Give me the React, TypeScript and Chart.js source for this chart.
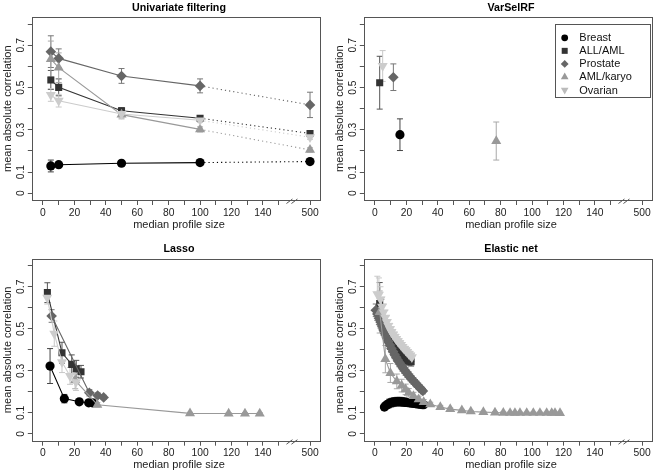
import React, { useEffect, useRef } from 'react';
import { Chart, registerables } from 'chart.js';

Chart.register(...registerables);
Chart.defaults.font.family = "'Liberation Sans', Arial, Helvetica, sans-serif";

// ---------- series meta ----------
const SERIES_NAMES = ['Breast', 'ALL/AML', 'Prostate', 'AML/karyo', 'Ovarian'];
const COLORS = ['#000000', '#333333', '#666666', '#999999', '#cccccc'];
const ERR_COLORS = ['#444444', '#555555', '#777777', '#a8a8a8', '#c8c8c8'];
const STYLES = ['circle', 'rect', 'rectRot', 'triangle', 'triangle'];
const ROTATIONS = [0, 0, 0, 0, 180];
const RADII = [4.6, 5, 5.3, 5.8, 5.8];

// ---------- axes ----------
const X_TITLE = 'median profile size';
const Y_TITLE = 'mean absolute correlation';
const X_TICK_VALUES = [0, 10, 20, 30, 40, 50, 60, 70, 80, 90, 100, 110, 120, 130, 140, 150, 500];
const X_TICK_LABELS = ['0', '', '20', '', '40', '', '60', '', '80', '', '100', '', '120', '', '140', '', '500'];
const Y_TICK_VALUES = [0, 0.1, 0.2, 0.3, 0.4, 0.5, 0.6, 0.7, 0.8];
const Y_TICK_LABELS = ['0', '0.1', '', '0.3', '', '0.5', '', '0.7', ''];

// ---------- Univariate filtering ----------
const uniX = [5, 10, 50, 100, 500];
const uniBreast = [0.129, 0.135, 0.142, 0.145, 0.15];
const uniBreastErr = [0.028, 0.008, 0.006, 0.006, 0.006];
const uniAllAml = [0.536, 0.501, 0.39, 0.355, 0.283];
const uniAllAmlErr = [0.045, 0.04, 0.015, 0.012, 0.01];
const uniProstate = [0.67, 0.638, 0.555, 0.508, 0.418];
const uniProstateErr = [0.075, 0.045, 0.035, 0.033, 0.06];
const uniAmlKaryo = [0.635, 0.594, 0.372, 0.302, 0.205];
const uniAmlKaryoErr = [0.085, 0.07, 0.02, 0.012, 0.01];
const uniOvarian = [0.465, 0.438, 0.375, 0.345, 0.265];
const uniOvarianErr = [0.03, 0.03, 0.015, 0.01, 0.01];

// ---------- VarSelRF ----------
const vsBreastX = [15.9];
const vsBreast = [0.277];
const vsBreastErr = [0.075];
const vsAllAmlX = [3];
const vsAllAml = [0.523];
const vsAllAmlErr = [0.125];
const vsProstateX = [11.7];
const vsProstate = [0.549];
const vsProstateErr = [0.063];
const vsAmlKaryoX = [77.2];
const vsAmlKaryo = [0.247];
const vsAmlKaryoErr = [0.09];
const vsOvarianX = [4.9];
const vsOvarian = [0.602];
const vsOvarianErr = [0.073];

// ---------- Lasso ----------
const laBreastX = [4.5, 13.6, 23.1, 29.1, 31.5];
const laBreast = [0.323, 0.168, 0.153, 0.148, 0.148];
const laBreastErr = [0.083, 0.02, 0.01, 0.01, 0.008];
const laAllAmlX = [2.8, 12.1, 18.3, 21.2, 24.2];
const laAllAml = [0.672, 0.386, 0.331, 0.31, 0.296];
const laAllAmlErr = [0.047, 0.05, 0.045, 0.04, 0.03];
const laProstateX = [5.5, 29.5, 34.8, 38.6];
const laProstate = [0.561, 0.196, 0.183, 0.174];
const laProstateErr = [0.03, 0.015, 0.012, 0.01];
const laAmlKaryoX = [20.5, 34.6, 93.6, 118.2, 128.6, 138];
const laAmlKaryo = [0.255, 0.139, 0.098, 0.097, 0.097, 0.097];
const laAmlKaryoErr = [0.04, 0.01, 0.005, 0.004, 0.004, 0.004];
const laOvarianX = [2.7, 7.2, 12.1, 17.2, 21];
const laOvarian = [0.648, 0.477, 0.342, 0.276, 0.247];
const laOvarianErr = [0.03, 0.06, 0.05, 0.04, 0.04];

// ---------- Elastic net ----------
const enBreastX = [6, 7, 8, 9, 10, 11, 12, 13, 14, 15, 16, 17, 18, 19, 20, 21, 22, 23, 24, 25, 26, 27, 28, 29, 30, 31];
const enBreast = [0.128, 0.135, 0.14, 0.145, 0.148, 0.15, 0.152, 0.153, 0.154, 0.154, 0.154, 0.153, 0.152, 0.151, 0.15, 0.149, 0.148, 0.147, 0.146, 0.145, 0.144, 0.143, 0.142, 0.141, 0.14, 0.139];
const enBreastErr = [0.012, 0.015, 0.018, 0.02, 0.02, 0.02, 0.02, 0.02, 0.02, 0.02, 0.02, 0.02, 0.018, 0.018, 0.018, 0.016, 0.016, 0.015, 0.015, 0.014, 0.014, 0.013, 0.013, 0.012, 0.012, 0.012];
const enAllAmlX = [3, 4, 5, 6, 7, 8, 9, 10, 11, 12, 13, 14, 15, 16, 17, 18, 19, 20, 21, 22, 23];
const enAllAml = [0.62, 0.57, 0.535, 0.505, 0.48, 0.46, 0.445, 0.43, 0.42, 0.41, 0.4, 0.392, 0.385, 0.378, 0.372, 0.366, 0.36, 0.355, 0.35, 0.347, 0.343];
const enAllAmlErr = [0.1, 0.07, 0.05, 0.04, 0.035, 0.03, 0.03, 0.028, 0.026, 0.025, 0.024, 0.023, 0.022, 0.021, 0.02, 0.02, 0.02, 0.02, 0.02, 0.02, 0.02];
const enProstateX = [0.5, 1.5, 2.5, 3.5, 4.5, 5.5, 6.5, 7.5, 8.5, 9.5, 10.5, 11.5, 12.5, 13.5, 14.5, 15.5, 16.5, 17.5, 18.5, 19.5, 20.5, 21.5, 22.5, 23.5, 24.5, 25.5, 26.5, 27.5, 28.5, 29.5, 30.5];
const enProstate = [0.588, 0.57, 0.55, 0.532, 0.513, 0.494, 0.476, 0.458, 0.44, 0.423, 0.407, 0.392, 0.378, 0.365, 0.352, 0.34, 0.329, 0.318, 0.307, 0.297, 0.287, 0.278, 0.269, 0.26, 0.252, 0.244, 0.236, 0.228, 0.22, 0.212, 0.204];
const enProstateErr = [0.03, 0.03, 0.03, 0.028, 0.026, 0.025, 0.024, 0.023, 0.022, 0.021, 0.02, 0.02, 0.02, 0.02, 0.02, 0.02, 0.019, 0.019, 0.018, 0.018, 0.017, 0.017, 0.016, 0.016, 0.015, 0.015, 0.015, 0.014, 0.014, 0.014, 0.013];
const enAmlKaryoX = [3, 6.6, 9.8, 13.9, 17, 19.5, 21.5, 24.5, 27.8, 31, 35.2, 41.6, 47.9, 55.3, 61, 69, 76.4, 81.7, 86, 89.1, 92.3, 96.6, 100.8, 105, 109.3, 112.5, 114.6, 117.8];
const enAmlKaryo = [0.58, 0.356, 0.29, 0.25, 0.23, 0.212, 0.196, 0.18, 0.165, 0.152, 0.141, 0.128, 0.118, 0.112, 0.107, 0.104, 0.102, 0.101, 0.1, 0.1, 0.1, 0.1, 0.1, 0.1, 0.1, 0.1, 0.1, 0.099];
const enAmlKaryoErr = [0.1, 0.065, 0.045, 0.035, 0.03, 0.025, 0.02, 0.018, 0.015, 0.012, 0.01, 0.008, 0.006, 0.005, 0.005, 0.004, 0.004, 0.004, 0.004, 0.004, 0.004, 0.004, 0.004, 0.004, 0.004, 0.004, 0.004, 0.004];
const enOvarianX = [1.5, 2.5, 3.5, 4.5, 5.5, 6.5, 7.5, 8.5, 9.5, 10.5, 11.5, 12.5, 13.5, 14.5, 15.5, 16.5, 17.5, 18.5, 19.5, 20.5, 21.5, 22.5, 23.5];
const enOvarian = [0.665, 0.662, 0.64, 0.605, 0.578, 0.553, 0.532, 0.514, 0.498, 0.484, 0.472, 0.461, 0.451, 0.441, 0.432, 0.423, 0.414, 0.405, 0.397, 0.389, 0.381, 0.373, 0.365];
const enOvarianErr = [0.085, 0.08, 0.06, 0.045, 0.04, 0.035, 0.03, 0.03, 0.028, 0.026, 0.025, 0.024, 0.023, 0.022, 0.021, 0.02, 0.02, 0.02, 0.02, 0.02, 0.02, 0.02, 0.02];

// ---------- panels ----------
type Panel = {
  title: string;
  xs: number[][];
  ys: number[][];
  errs: number[][];
  lines: boolean;
  dottedLast: boolean;
  legend: boolean;
};

const PANELS: Panel[] = [
  {
    title: 'Univariate filtering',
    xs: [uniX, uniX, uniX, uniX, uniX],
    ys: [uniBreast, uniAllAml, uniProstate, uniAmlKaryo, uniOvarian],
    errs: [uniBreastErr, uniAllAmlErr, uniProstateErr, uniAmlKaryoErr, uniOvarianErr],
    lines: true, dottedLast: true, legend: false,
  },
  {
    title: 'VarSelRF',
    xs: [vsBreastX, vsAllAmlX, vsProstateX, vsAmlKaryoX, vsOvarianX],
    ys: [vsBreast, vsAllAml, vsProstate, vsAmlKaryo, vsOvarian],
    errs: [vsBreastErr, vsAllAmlErr, vsProstateErr, vsAmlKaryoErr, vsOvarianErr],
    lines: false, dottedLast: false, legend: true,
  },
  {
    title: 'Lasso',
    xs: [laBreastX, laAllAmlX, laProstateX, laAmlKaryoX, laOvarianX],
    ys: [laBreast, laAllAml, laProstate, laAmlKaryo, laOvarian],
    errs: [laBreastErr, laAllAmlErr, laProstateErr, laAmlKaryoErr, laOvarianErr],
    lines: true, dottedLast: false, legend: false,
  },
  {
    title: 'Elastic net',
    xs: [enBreastX, enAllAmlX, enProstateX, enAmlKaryoX, enOvarianX],
    ys: [enBreast, enAllAml, enProstate, enAmlKaryo, enOvarian],
    errs: [enBreastErr, enAllAmlErr, enProstateErr, enAmlKaryoErr, enOvarianErr],
    lines: true, dottedLast: false, legend: false,
  },
];

type Row = { top: number; height: number; boxTop: number; boxBottom: number; xTitleCenter: number };
const ROWS: Row[] = [
  { top: 0, height: 236, boxTop: 17.4, boxBottom: 200, xTitleCenter: 225 },
  { top: 241, height: 232, boxTop: 18, boxBottom: 199.7, xTitleCenter: 224 },
];
const PANEL_W = 332;
const BOX_LEFT = 32.3;
const BOX_RIGHT = 320.7;
const TEXT_CENTER_X = 179;

// 500 sits after the axis break
const toAxis = (v: number) => (v === 500 ? 170 : v);

function drawMarker(ctx: CanvasRenderingContext2D, style: string, x: number, y: number, r: number, rot: number) {
  ctx.beginPath();
  if (style === 'circle') {
    ctx.arc(x, y, r, 0, Math.PI * 2);
  } else if (style === 'rect') {
    ctx.rect(x - r, y - r, 2 * r, 2 * r);
  } else if (style === 'rectRot') {
    ctx.moveTo(x, y - r);
    ctx.lineTo(x + r, y);
    ctx.lineTo(x, y + r);
    ctx.lineTo(x - r, y);
    ctx.closePath();
  } else {
    const d = rot === 180 ? 1 : -1;
    ctx.moveTo(x, y + d * r);
    ctx.lineTo(x - r * 0.866, y - d * r * 0.5);
    ctx.lineTo(x + r * 0.866, y - d * r * 0.5);
    ctx.closePath();
  }
  ctx.fill();
}

const errorBarPlugin = {
  id: 'errorBars',
  beforeDatasetsDraw(chart: any) {
    const { ctx } = chart;
    const xs = chart.scales.x;
    const ys = chart.scales.y;
    ctx.save();
    ctx.lineWidth = 1;
    chart.data.datasets.forEach((ds: any) => {
      ctx.strokeStyle = ds.errColor;
      ds.data.forEach((p: any) => {
        if (!p.e) return;
        const px = xs.getPixelForValue(p.x);
        const top = ys.getPixelForValue(p.y + p.e);
        const bot = ys.getPixelForValue(p.y - p.e);
        ctx.beginPath();
        ctx.moveTo(px, top);
        ctx.lineTo(px, bot);
        ctx.moveTo(px - 3, top);
        ctx.lineTo(px + 3, top);
        ctx.moveTo(px - 3, bot);
        ctx.lineTo(px + 3, bot);
        ctx.stroke();
      });
    });
    ctx.restore();
  },
};

function makeFramePlugin(panel: Panel, row: Row) {
  return {
    id: 'frame',
    afterDraw(chart: any) {
      const { ctx, chartArea: a } = chart;
      const xs = chart.scales.x;
      const ys = chart.scales.y;
      ctx.save();
      // plot box
      ctx.strokeStyle = '#555';
      ctx.lineWidth = 1;
      ctx.strokeRect(Math.round(a.left) + 0.5, Math.round(a.top) + 0.5, Math.round(a.right - a.left), Math.round(a.bottom - a.top));
      // axis break
      const bx = xs.getPixelForValue(158.5);
      const by = a.bottom;
      ctx.beginPath();
      [-2.5, 2.5].forEach((off) => {
        ctx.moveTo(bx + off - 3, by + 3.5);
        ctx.lineTo(bx + off + 3, by - 1);
      });
      ctx.stroke();
      // title and x label
      ctx.textAlign = 'center';
      ctx.textBaseline = 'middle';
      ctx.fillStyle = '#000';
      ctx.font = "bold 10.7px 'Liberation Sans', Arial, sans-serif";
      ctx.fillText(panel.title, TEXT_CENTER_X, 8.5);
      ctx.fillStyle = '#222';
      ctx.font = "11px 'Liberation Sans', Arial, sans-serif";
      ctx.fillText(X_TITLE, TEXT_CENTER_X, row.xTitleCenter);
      // rotated y tick labels
      ctx.font = "10.3px 'Liberation Sans', Arial, sans-serif";
      Y_TICK_VALUES.forEach((v, i) => {
        const lab = Y_TICK_LABELS[i];
        if (!lab) return;
        const py = ys.getPixelForValue(v);
        ctx.save();
        ctx.translate(21, py);
        ctx.rotate(-Math.PI / 2);
        ctx.fillText(lab, 0, 0);
        ctx.restore();
      });
      // legend
      if (panel.legend) {
        const w = 95.3;
        const h = 73.4;
        const lx = a.right - 2.7 - w;
        const ly = a.top + 7;
        ctx.strokeStyle = '#555';
        ctx.strokeRect(Math.round(lx) + 0.5, Math.round(ly) + 0.5, Math.round(w), Math.round(h));
        ctx.font = "11px 'Liberation Sans', Arial, sans-serif";
        ctx.textAlign = 'left';
        ctx.textBaseline = 'middle';
        const legR = [3.4, 3, 3.9, 4.4, 4.4];
        SERIES_NAMES.forEach((name, i) => {
          const yy = ly + 13.4 + i * 13.05;
          ctx.fillStyle = i === 4 ? '#bbbbbb' : COLORS[i];
          drawMarker(ctx, STYLES[i], lx + 10, yy, legR[i], ROTATIONS[i]);
          ctx.fillStyle = '#111';
          ctx.fillText(name, lx + 24.6, yy + 0.5);
        });
      }
      ctx.restore();
    },
  };
}

function buildConfig(panel: Panel, row: Row): any {
  const datasets = panel.ys.map((ys, i) => ({
    label: SERIES_NAMES[i],
    data: ys.map((y, j) => ({ x: toAxis(panel.xs[i][j]), y, e: panel.errs[i][j] })),
    showLine: panel.lines,
    borderColor: COLORS[i],
    backgroundColor: COLORS[i],
    borderWidth: 1.1,
    pointStyle: STYLES[i],
    pointRotation: ROTATIONS[i],
    pointRadius: RADII[i],
    pointHoverRadius: RADII[i],
    pointBorderWidth: 0,
    order: -i,
    errColor: ERR_COLORS[i],
    segment: panel.dottedLast
      ? { borderDash: (c: any) => (c.p1.parsed.x === 170 ? [1.2, 3] : undefined) }
      : undefined,
  }));
  const yTitleLine = 11 * 1.2;
  return {
    type: 'scatter',
    data: { datasets },
    options: {
      animation: false,
      responsive: false,
      maintainAspectRatio: false,
      events: [],
      layout: { padding: { left: 0, right: PANEL_W - BOX_RIGHT, top: row.boxTop, bottom: 0 } },
      plugins: {
        legend: { display: false },
        tooltip: { enabled: false },
        title: { display: false },
      },
      scales: {
        x: {
          type: 'linear',
          min: -6.8,
          max: 176.8,
          afterBuildTicks: (s: any) => {
            s.ticks = X_TICK_VALUES.map((v) => ({ value: toAxis(v) }));
          },
          afterFit: (s: any) => {
            s.height = row.height - row.boxBottom;
          },
          border: { display: false },
          grid: { drawOnChartArea: false, drawTicks: true, tickLength: 5, color: '#555' },
          ticks: {
            autoSkip: false,
            maxRotation: 0,
            minRotation: 0,
            padding: 1.5,
            color: '#222',
            font: { size: 10.3 },
            callback: (v: number) => {
              const idx = X_TICK_VALUES.findIndex((t) => toAxis(t) === v);
              return idx >= 0 ? X_TICK_LABELS[idx] : '';
            },
          },
          title: { display: false },
        },
        y: {
          type: 'linear',
          min: -0.032,
          max: 0.832,
          afterBuildTicks: (s: any) => {
            s.ticks = Y_TICK_VALUES.map((v) => ({ value: v }));
          },
          afterFit: (s: any) => {
            s.width = BOX_LEFT;
          },
          border: { display: false },
          grid: { drawOnChartArea: false, drawTicks: true, tickLength: 4.5, color: '#555' },
          ticks: { display: false },
          title: {
            display: true,
            text: Y_TITLE,
            color: '#222',
            font: { size: 11 },
            padding: { top: 8.3 - yTitleLine / 2, bottom: 0 },
          },
        },
      },
    },
    plugins: [errorBarPlugin, makeFramePlugin(panel, row)],
  };
}

function PanelChart({ panel, left, row }: { panel: Panel; left: number; row: Row }) {
  const ref = useRef<HTMLCanvasElement>(null);
  useEffect(() => {
    const chart = new Chart(ref.current as HTMLCanvasElement, buildConfig(panel, row));
    return () => chart.destroy();
  }, []);
  return (
    <canvas
      ref={ref}
      width={PANEL_W}
      height={row.height}
      style={{ position: 'absolute', left, top: row.top, width: PANEL_W, height: row.height }}
    />
  );
}

export default function App() {
  return (
    <div style={{ position: 'absolute', left: 0, top: 0, width: 664, height: 473, background: '#fff' }}>
      <PanelChart panel={PANELS[0]} left={0} row={ROWS[0]} />
      <PanelChart panel={PANELS[1]} left={PANEL_W} row={ROWS[0]} />
      <PanelChart panel={PANELS[2]} left={0} row={ROWS[1]} />
      <PanelChart panel={PANELS[3]} left={PANEL_W} row={ROWS[1]} />
    </div>
  );
}
